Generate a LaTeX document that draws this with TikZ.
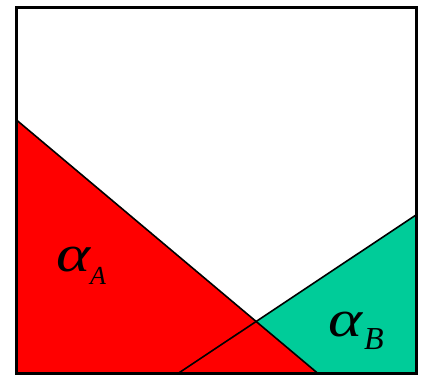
\documentclass[tikz,border=0pt]{standalone}
\usepackage{fontspec}
\newfontfamily\lserif{Liberation Serif}
\usepackage{tikz}
\usetikzlibrary{calc}
\definecolor{regionB}{RGB}{0,204,153}

\begin{document}
\begin{tikzpicture}[
    x=1pt, y=1pt,
    frame/.style={draw, line width=3pt},
    cut/.style={draw, line width=1.6pt},
    lbl/.style={inner sep=0pt, anchor=base west, font=\lserif\itshape\fontsize{48}{50}\selectfont},
]
\useasboundingbox (0,0) rectangle (423,375);

% corners of the square (pixel y flipped)
\coordinate (bl) at (16.5,1.5);
\coordinate (br) at (416,1.5);
\coordinate (tr) at (416,367.5);
\coordinate (tl) at (16.5,367.5);

% ends of the two cutting lines
\coordinate (a1) at (16.5,255);
\coordinate (a2) at (318,1.5);
\coordinate (b1) at (416,160);
\coordinate (b2) at (178,1.5);
\coordinate (x) at (intersection of a1--a2 and b1--b2);

% Region A
\fill[red] (a1) -- (a2) -- (bl) -- cycle;

% Region B
\fill[regionB] (x) -- (b1) -- (br) -- (a2) -- cycle;

% cutting lines
\draw[cut] (a1) -- (a2);
\draw[cut] (b1) -- (b2);

% square
\draw[frame] (bl) rectangle (tr);

% labels
\node[lbl] (labA) at (56,103) {\scalebox{1.35}[1.08]{α}\hspace{0pt}\raisebox{-13pt}{\fontsize{26}{26}\selectfont A}};
\node[lbl] (labB) at (328,38) {\scalebox{1.35}[1.08]{α}\hspace{2pt}\raisebox{-13pt}{\fontsize{32}{32}\selectfont B}};
\end{tikzpicture}
\end{document}
